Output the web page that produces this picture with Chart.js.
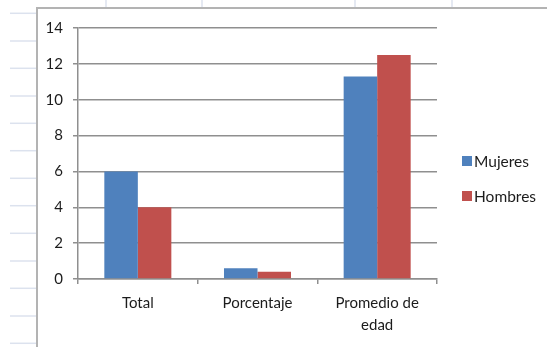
<!DOCTYPE html>
<html>
<head>
<meta charset="utf-8">
<script src="https://cdn.jsdelivr.net/npm/chart.js@4/dist/chart.umd.min.js"></script>
<style>
  html, body { margin: 0; padding: 0; background: #fff; }
  #wrap { width: 547px; height: 347px; position: relative; }
</style>
</head>
<body>
<div id="wrap"><canvas id="c" width="547" height="347"></canvas></div>
<script>
// Categories and series
const categories = ["Total", "Porcentaje", ["Promedio de", "edad"]];
const mujeres = [6, 0.6, 11.3];
const hombres = [4, 0.4, 12.5];
const seriesNames = ["Mujeres", "Hombres"];
const yTicks = [0, 2, 4, 6, 8, 10, 12, 14];

const FONT = "Lato, 'Liberation Sans', sans-serif";
const TEXT = "#1c1c1c";

// Worksheet cells behind the chart object, plus the chart frame
const sheetBackdrop = {
  id: "sheetBackdrop",
  beforeDraw(chart) {
    const ctx = chart.ctx;
    ctx.save();
    ctx.fillStyle = "#ffffff";
    ctx.fillRect(0, 0, chart.width, chart.height);
    ctx.strokeStyle = "#dce2ee";
    ctx.lineWidth = 1.5;
    const rows = [13.3, 41, 68.3, 96, 123.3, 150.7, 178.3, 205.7, 233.3, 261, 288.3, 316, 343.3];
    rows.forEach(y => { ctx.beginPath(); ctx.moveTo(10, y); ctx.lineTo(36, y); ctx.stroke(); });
    [106, 202, 355, 452].forEach(x => { ctx.beginPath(); ctx.moveTo(x, 0); ctx.lineTo(x, 7); ctx.stroke(); });
    ctx.strokeStyle = "#b3b3b3";
    ctx.lineWidth = 2;
    ctx.beginPath();
    ctx.moveTo(37, chart.height);
    ctx.lineTo(37, 8);
    ctx.lineTo(chart.width, 8);
    ctx.stroke();
    ctx.restore();
  }
};

// Legend drawn from the dataset labels and colours
const sideLegend = {
  id: "sideLegend",
  afterDraw(chart) {
    const ctx = chart.ctx;
    ctx.save();
    ctx.font = "15.5px " + FONT;
    ctx.textBaseline = "middle";
    ctx.textAlign = "left";
    chart.data.datasets.forEach((ds, i) => {
      const cy = 161 + i * 35;
      ctx.fillStyle = ds.backgroundColor;
      ctx.fillRect(462, cy - 5, 10, 10);
      ctx.fillStyle = TEXT;
      ctx.fillText(ds.label, 474, cy + 1);
    });
    ctx.restore();
  }
};

new Chart(document.getElementById("c"), {
  type: "bar",
  data: {
    labels: categories,
    datasets: [
      { label: seriesNames[0], data: mujeres, backgroundColor: "#4F81BD" },
      { label: seriesNames[1], data: hombres, backgroundColor: "#C0504D" }
    ]
  },
  options: {
    responsive: false,
    animation: false,
    devicePixelRatio: 1,
    layout: { padding: { left: 38, right: 110, top: 28, bottom: 6 } },
    datasets: { bar: { categoryPercentage: 0.56, barPercentage: 1.0 } },
    plugins: { legend: { display: false }, tooltip: { enabled: false } },
    scales: {
      x: {
        afterFit(scale) { scale.height = 62; },
        grid: { offset: true, drawOnChartArea: false, drawTicks: true, tickLength: 5, color: "#8f8f8f", lineWidth: 1.5 },
        border: { color: "#8f8f8f", width: 1.5 },
        ticks: { color: TEXT, font: { family: FONT, size: 15, lineHeight: 1.47 }, padding: 8, maxRotation: 0 }
      },
      y: {
        min: 0, max: 14,
        afterFit(scale) { scale.width = 40; },
        afterBuildTicks(scale) { scale.ticks = yTicks.map(v => ({ value: v })); },
        grid: { color: "#8f8f8f", lineWidth: 1.5, tickLength: 5 },
        border: { color: "#8f8f8f", width: 1.5 },
        ticks: { color: TEXT, font: { family: FONT, size: 15 }, padding: 10 }
      }
    }
  },
  plugins: [sheetBackdrop, sideLegend]
});
</script>
</body>
</html>
